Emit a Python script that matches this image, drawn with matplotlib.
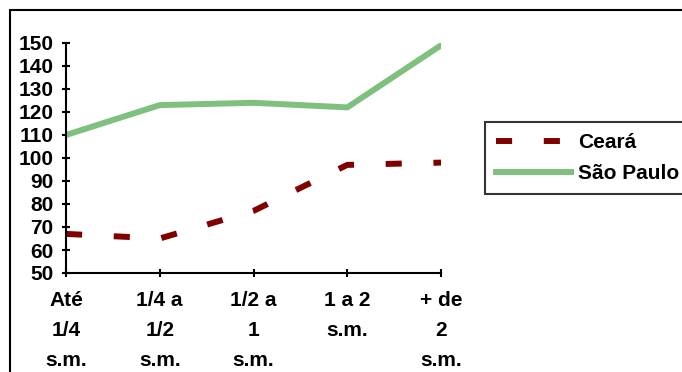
import matplotlib
matplotlib.use("Agg")
import matplotlib.pyplot as plt
from matplotlib.patches import Rectangle

categories = ["Até\n1/4\ns.m.", "1/4 a\n1/2\ns.m.", "1/2 a\n1\ns.m.", "1 a 2\ns.m.", "+ de\n2\ns.m."]
ceara = [67, 65, 77, 97, 98]
sao_paulo = [110, 123, 124, 122, 149]
yticks = list(range(50, 151, 10))

plt.rcParams['font.family'] = ['Liberation Sans', 'DejaVu Sans']
plt.rcParams['font.weight'] = 'bold'

W, H = 682, 372
FS = 15
fig = plt.figure(figsize=(W/100, H/100), dpi=100)
ax = fig.add_axes([66/W, 1-273/H, (441-66)/W, (273-43)/H])
x = list(range(len(categories)))
ax.plot(x, ceara, color='#800000', lw=4.3, dashes=(2.7, 5.3), solid_capstyle='butt', dash_capstyle='butt', label='Ceará')
ax.plot(x, sao_paulo, color='#7fc07f', lw=4.3, label='São Paulo')
ax.set_xlim(0, len(categories)-1)
ax.set_ylim(50, 150)
ax.set_yticks(yticks)
ax.set_xticks(x)
ax.set_xticklabels(categories, fontsize=FS, fontweight='bold', linespacing=1.72)
ax.set_yticklabels([str(v) for v in yticks], fontsize=FS, fontweight='bold')
for s in ['top', 'right']:
    ax.spines[s].set_visible(False)
for s in ['left', 'bottom']:
    ax.spines[s].set_linewidth(1.5)
ax.tick_params(direction='inout', length=6, width=1.5)
ax.tick_params(axis='y', pad=6)
ax.tick_params(axis='x', pad=10)
leg = fig.legend(loc='upper left', bbox_to_anchor=(485/W, 1-122/H), frameon=True, fancybox=False,
                 edgecolor='black', prop={'size': FS, 'weight': 'bold'}, handlelength=3.6,
                 borderpad=0.55, labelspacing=0.55, handletextpad=0.3, borderaxespad=0)
leg.get_frame().set_linewidth(1.5)
fig.patches.append(Rectangle((10/W, -0.1), 1.0, 1 - 10/H + 0.1, transform=fig.transFigure,
                             fill=False, edgecolor='black', lw=1.5))
fig.savefig('out.png', dpi=100)
